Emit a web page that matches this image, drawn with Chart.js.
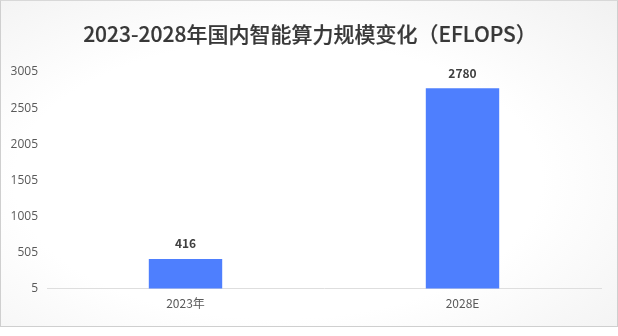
<!DOCTYPE html>
<html>
<head>
<meta charset="utf-8">
<script src="https://cdn.jsdelivr.net/npm/chart.js@4.4.0/dist/chart.umd.min.js"></script>
<style>
  html, body { margin: 0; padding: 0; background: #fff; }
  #wrap {
    position: relative; width: 616px; height: 325px;
    border: 1px solid #cfcfcf; border-top-color: #d8d8d8;
    background: radial-gradient(ellipse at 45% 55%, #ffffff 55%, #f1f1f1 100%);
  }
  #title {
    position: absolute; left: 3px; top: 18px; width: 612px; text-align: center;
    font: 500 21px "Noto Sans CJK SC", sans-serif; color: #383838; line-height: 28px;
    -webkit-text-stroke: 0.2px #383838;
  }
  canvas { display: block; }
</style>
</head>
<body>
<div id="wrap"><div id="title"></div><canvas id="c" width="616" height="325"></canvas></div>
<script>
const titleText = '2023-2028年国内智能算力规模变化（EFLOPS）';
const categories = ['2023年', '2028E'];
const values = [416, 2780];
const yMin = 5, yMax = 3005, yStep = 500;

document.getElementById('title').textContent = titleText;

const valueLabels = {
  id: 'valueLabels',
  afterDatasetsDraw(chart) {
    const ctx = chart.ctx;
    const meta = chart.getDatasetMeta(0);
    ctx.save();
    ctx.font = 'bold 12px "Noto Sans CJK SC", "Open Sans", sans-serif';
    ctx.fillStyle = '#404040';
    ctx.textAlign = 'center';
    ctx.textBaseline = 'middle';
    meta.data.forEach((bar, i) => {
      ctx.fillText(String(values[i]), bar.x, bar.y - 15);
    });
    ctx.restore();
  }
};

new Chart(document.getElementById('c'), {
  type: 'bar',
  data: {
    labels: categories,
    datasets: [{
      data: values,
      backgroundColor: '#4e7ffe',
      borderWidth: 0,
      categoryPercentage: 0.53,
      barPercentage: 0.5
    }]
  },
  options: {
    responsive: false,
    animation: false,
    layout: { padding: { top: 71, right: 16, bottom: 15, left: 0 } },
    plugins: {
      legend: { display: false },
      tooltip: { enabled: false },
      title: { display: false }
    },
    scales: {
      x: {
        grid: { display: false },
        border: { display: true, color: '#dedede', width: 1 },
        ticks: { color: '#595959', font: { size: 12, family: '"Noto Sans CJK SC", "Open Sans", sans-serif' }, padding: 0 }
      },
      y: {
        min: yMin, max: yMax,
        afterBuildTicks(axis) {
          const t = [];
          for (let v = yMin; v <= yMax; v += yStep) t.push({ value: v });
          axis.ticks = t;
        },
        afterFit(axis) { axis.width = 46; },
        grid: { display: false, drawTicks: false },
        border: { display: false },
        ticks: {
          color: '#595959', font: { size: 12, family: '"Open Sans", sans-serif' }, padding: 9,
          callback: (v) => String(v)
        }
      }
    }
  },
  plugins: [valueLabels]
});
</script>
</body>
</html>
